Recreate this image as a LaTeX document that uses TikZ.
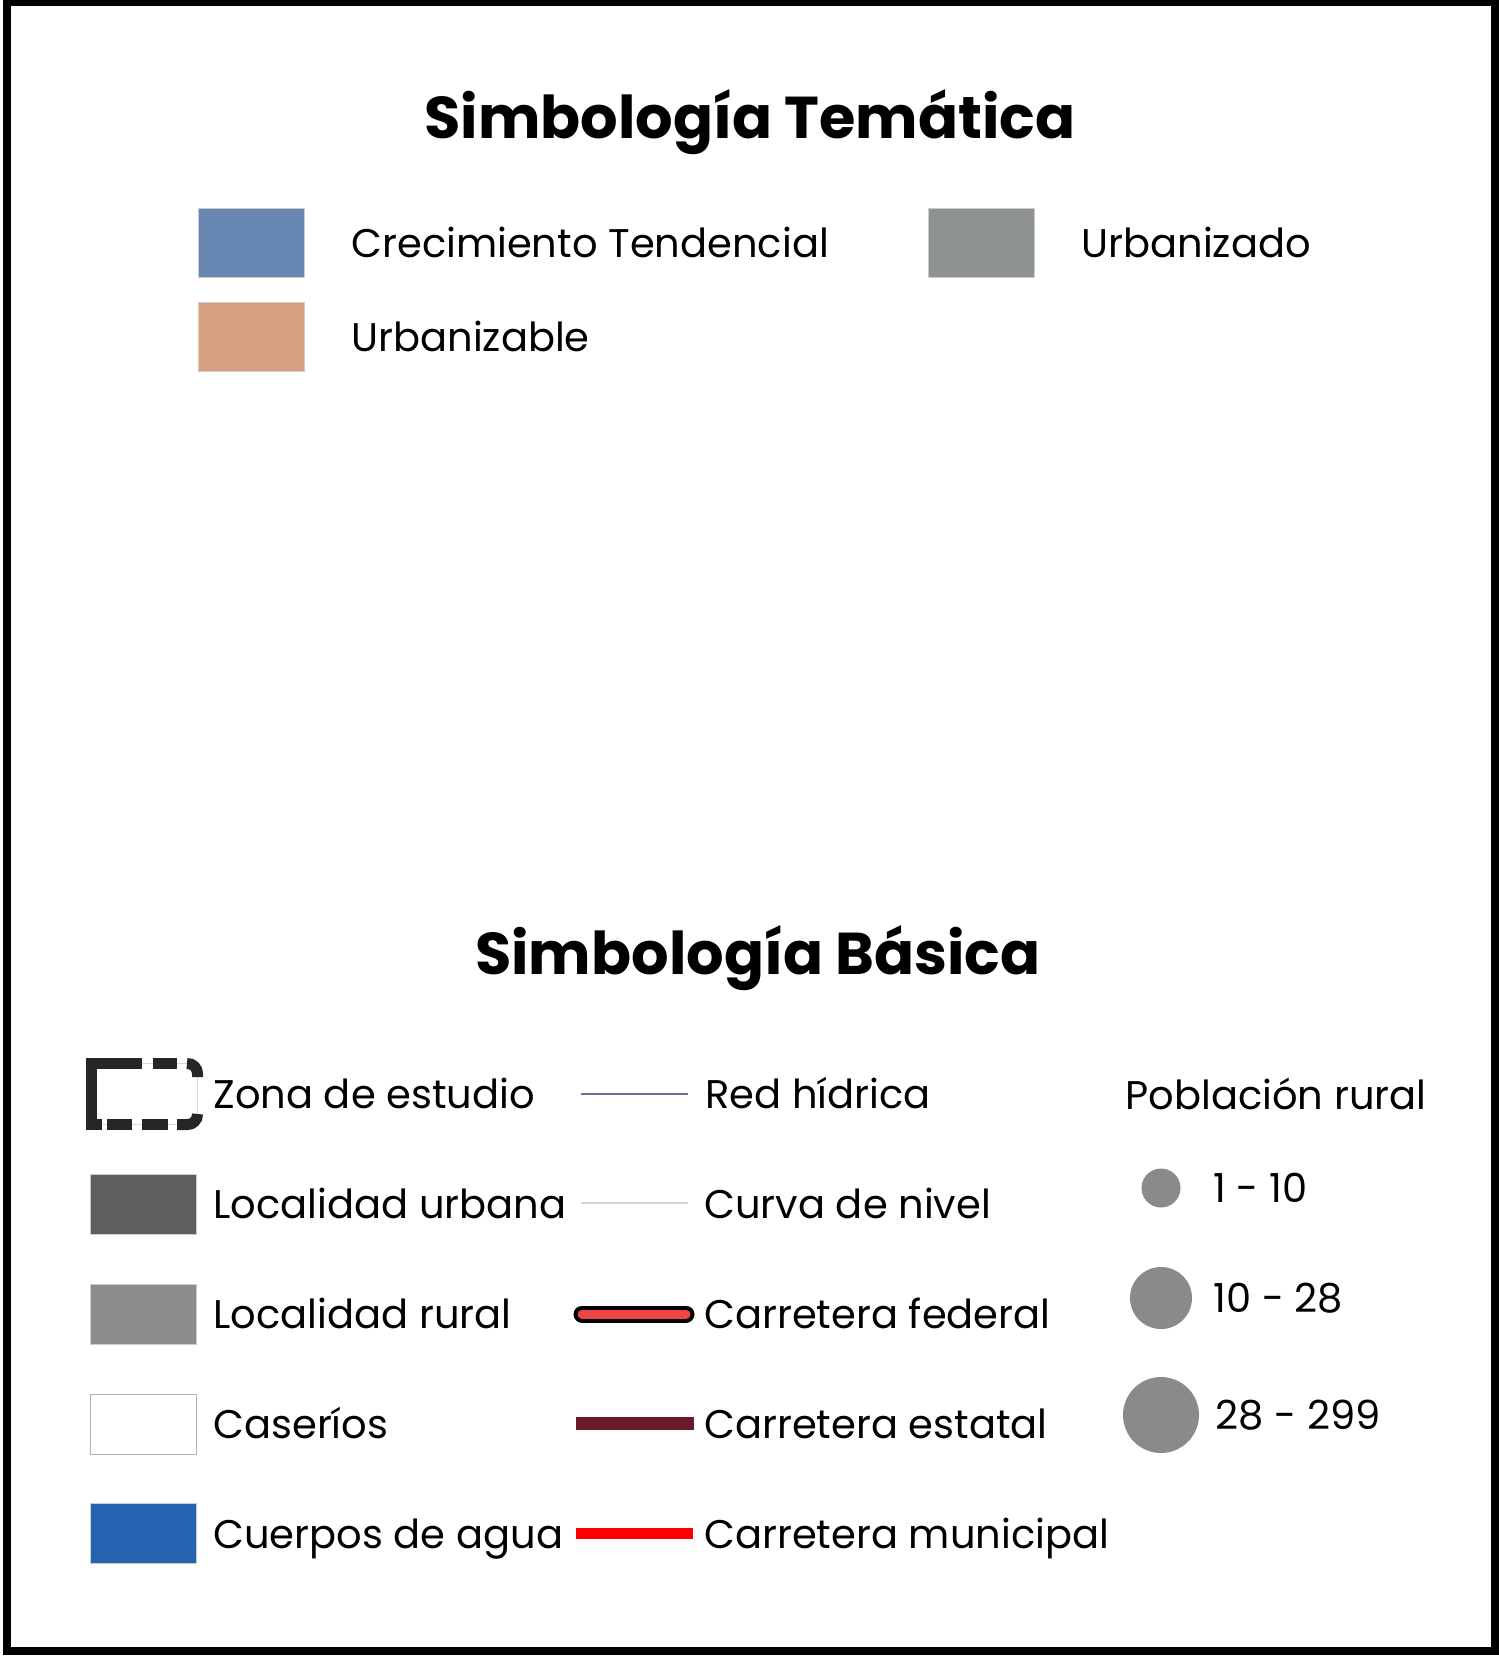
\documentclass[tikz,border=0pt]{standalone}
\usepackage{fontspec}
\setmainfont{Poppins}
\usetikzlibrary{positioning}

\definecolor{crecim}{HTML}{6787B2}
\definecolor{urbzdo}{HTML}{8E9292}
\definecolor{urbble}{HTML}{D79F7F}
\definecolor{locurb}{HTML}{5E5E5E}
\definecolor{locrur}{HTML}{8C8C8C}
\definecolor{agua}{HTML}{2563B0}
\definecolor{hidrica}{HTML}{66709F}
\definecolor{curva}{HTML}{D9D5CA}
\definecolor{federal}{HTML}{EE4646}
\definecolor{estatal}{HTML}{6B1A2E}
\definecolor{municipal}{HTML}{FF0000}
\definecolor{pobl}{HTML}{8A8A8A}

\begin{document}
\begin{tikzpicture}[x=0.5pt, y=-0.5pt]
        \tikzset{
            titulo/.style={inner sep=0pt, text height=20.6pt, text depth=0pt, font=\fontsize{29.5}{34}\selectfont\bfseries},
            etiq/.style={anchor=west, inner sep=0pt, text height=14pt, text depth=0pt, font=\fontsize{20}{24}\selectfont},
            muestra/.style={draw=black!20, line width=0.4pt, inner sep=0pt, minimum width=53pt, minimum height=34.5pt},
            basica/.style={muestra, minimum height=30pt},
            punto/.style={circle, fill=pobl, inner sep=0pt},
            zona/.style={black!85, line width=5.5pt},
        }
        \useasboundingbox (0,0) rectangle (1499,1656);
        \draw[line width=4pt] (7,2) rectangle (1495,1651);

        % simbologia tematica
        \node[titulo] (tema) at (750,118) {Simbología Temática};
        \node[muestra, fill=crecim] (crec) at (251,242.5) {};
        \node[etiq] (crect) at (351,243) {Crecimiento Tendencial};
        \node[muestra, fill=urbzdo] (urbz) at (981.5,242.5) {};
        \node[etiq] (urbzt) at (1081,243) {Urbanizado};
        \node[muestra, fill=urbble] (urbb) at (251,337) {};
        \node[etiq] (urbbt) at (351,337) {Urbanizable};

        % simbologia basica
        \node[titulo] (basi) at (758,954) {Simbología Básica};
        \draw[black!15, line width=0.4pt] (91.5,1063.5) rectangle (197.5,1124.5);
        \draw[zona] (102,1124.5) -- (91.5,1124.5) -- (91.5,1063.5) -- (142,1063.5);
        \draw[zona] (153,1063.5) -- (177,1063.5);
        \draw[zona, rounded corners=5pt] (188,1063.5) -- (197.5,1063.5) -- (197.5,1077);
        \draw[zona, rounded corners=5pt] (197.5,1115) -- (197.5,1124.5) -- (177,1124.5);
        \draw[zona] (168,1124.5) -- (142,1124.5);
        \draw[zona] (132,1124.5) -- (107,1124.5);
        \node[etiq] (zonat) at (213,1094) {Zona de estudio};
        \node[basica, fill=locurb] (lurb) at (143.5,1204) {};
        \node[etiq] (lurbt) at (213,1204) {Localidad urbana};
        \node[basica, fill=locrur] (lrur) at (143.5,1314) {};
        \node[etiq] (lrurt) at (213,1314) {Localidad rural};
        \node[basica, fill=white, draw=black!30] (case) at (143.5,1424) {};
        \node[etiq] (caset) at (213,1424) {Caseríos};
        \node[basica, fill=agua] (agua) at (143.5,1533) {};
        \node[etiq] (aguat) at (213,1534) {Cuerpos de agua};

        % lineas
        \node[etiq] (redt) at (705,1094) {Red hídrica};
        \node[etiq] (curt) at (704,1204) {Curva de nivel};
        \node[etiq] (fedt) at (704,1314) {Carretera federal};
        \node[etiq] (estt) at (704,1424) {Carretera estatal};
        \node[etiq] (munt) at (704,1534) {Carretera municipal};
        \draw[hidrica, line width=1.2pt] (581,1094) -- (688,1094);
        \draw[curva, line width=1pt] (581,1203) -- (688,1203);
        \draw[black, line width=8.5pt, line cap=round] (582,1314) -- (686,1314);
        \draw[federal, line width=4.5pt, line cap=round] (582,1314) -- (686,1314);
        \draw[estatal, line width=6.5pt] (576,1423) -- (694,1423);
        \draw[municipal, line width=5.5pt] (576,1533) -- (693,1533);

        % poblacion rural
        \node[etiq] (pobt) at (1125,1095) {Población rural};
        \node[punto, minimum size=19.5pt] (p1) at (1161,1188) {};
        \node[etiq] (p1t) at (1213,1188) {1 - 10};
        \node[punto, minimum size=31pt] (p2) at (1161,1298) {};
        \node[etiq] (p2t) at (1213,1298) {10 - 28};
        \node[punto, minimum size=38pt] (p3) at (1161,1415) {};
        \node[etiq] (p3t) at (1215,1415) {28 - 299};
\end{tikzpicture}
\end{document}
